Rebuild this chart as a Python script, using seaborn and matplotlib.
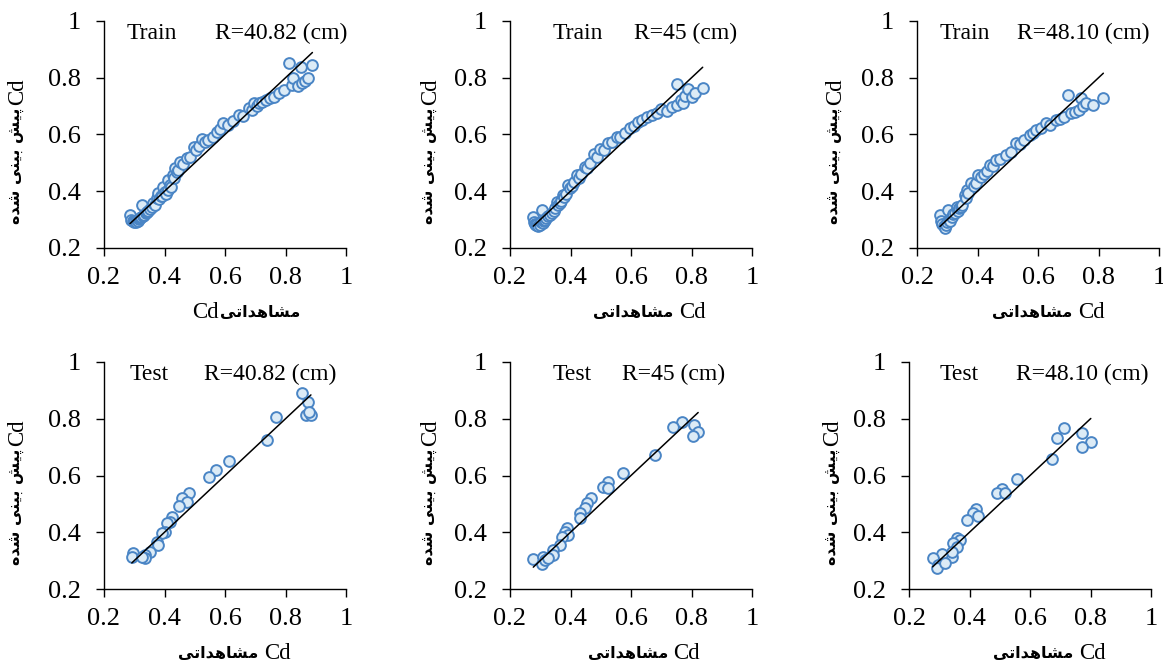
import matplotlib
matplotlib.use("Agg")
import matplotlib.pyplot as plt
import seaborn as sns
import pandas as pd

radii = ["R=40.82 (cm)", "R=45 (cm)", "R=48.10 (cm)"]

train_4082_obs = [0.286, 0.290, 0.295, 0.300, 0.305, 0.308, 0.312, 0.316, 0.320, 0.325, 0.322, 0.328,
                  0.333, 0.338, 0.342, 0.347, 0.352, 0.358, 0.363, 0.368, 0.375, 0.379, 0.383, 0.388,
                  0.392, 0.396, 0.400, 0.405, 0.410, 0.413, 0.418, 0.422, 0.429, 0.433, 0.436, 0.440,
                  0.445, 0.452, 0.460, 0.474, 0.485, 0.496, 0.505, 0.515, 0.524, 0.535, 0.545, 0.560,
                  0.574, 0.585, 0.595, 0.610, 0.625, 0.645, 0.660, 0.678, 0.690, 0.695, 0.705, 0.711,
                  0.722, 0.734, 0.748, 0.761, 0.778, 0.794, 0.811, 0.823, 0.826, 0.840, 0.851, 0.856,
                  0.865, 0.873, 0.889]
train_4082_pred = [0.316, 0.300, 0.295, 0.293, 0.292, 0.299, 0.296, 0.301, 0.305, 0.352, 0.310, 0.312,
                   0.318, 0.322, 0.327, 0.331, 0.338, 0.345, 0.359, 0.352, 0.376, 0.394, 0.371, 0.385,
                   0.382, 0.416, 0.398, 0.392, 0.404, 0.440, 0.421, 0.415, 0.457, 0.447, 0.482, 0.468,
                   0.474, 0.504, 0.495, 0.517, 0.522, 0.557, 0.545, 0.560, 0.584, 0.575, 0.581, 0.590,
                   0.610, 0.618, 0.640, 0.633, 0.648, 0.669, 0.665, 0.693, 0.685, 0.711, 0.700, 0.711,
                   0.715, 0.722, 0.728, 0.733, 0.748, 0.757, 0.852, 0.774, 0.799, 0.770, 0.839, 0.783,
                   0.790, 0.798, 0.845]

train_45_obs = [0.277, 0.278, 0.282, 0.286, 0.290, 0.294, 0.298, 0.300, 0.305, 0.304, 0.308, 0.312,
                0.316, 0.320, 0.326, 0.332, 0.338, 0.344, 0.350, 0.354, 0.360, 0.366, 0.370, 0.376,
                0.380, 0.385, 0.393, 0.398, 0.405, 0.412, 0.420, 0.428, 0.435, 0.448, 0.455, 0.465,
                0.478, 0.488, 0.498, 0.510, 0.525, 0.538, 0.553, 0.565, 0.580, 0.597, 0.610, 0.624,
                0.638, 0.652, 0.668, 0.685, 0.700, 0.718, 0.735, 0.751, 0.751, 0.765, 0.773, 0.780,
                0.790, 0.801, 0.810, 0.837]
train_45_pred = [0.310, 0.290, 0.283, 0.280, 0.285, 0.278, 0.288, 0.282, 0.334, 0.292, 0.287, 0.295,
                 0.300, 0.306, 0.312, 0.318, 0.324, 0.330, 0.340, 0.363, 0.350, 0.358, 0.365, 0.387,
                 0.378, 0.392, 0.422, 0.410, 0.420, 0.432, 0.457, 0.448, 0.462, 0.487, 0.482, 0.498,
                 0.531, 0.522, 0.548, 0.545, 0.569, 0.575, 0.592, 0.590, 0.606, 0.622, 0.630, 0.645,
                 0.652, 0.663, 0.668, 0.675, 0.690, 0.684, 0.698, 0.704, 0.778, 0.720, 0.710, 0.735,
                 0.759, 0.731, 0.745, 0.763]

train_4810_obs = [0.276, 0.280, 0.284, 0.288, 0.292, 0.296, 0.300, 0.303, 0.305, 0.310, 0.315, 0.320,
                  0.325, 0.331, 0.335, 0.340, 0.345, 0.350, 0.358, 0.362, 0.364, 0.370, 0.380, 0.388,
                  0.395, 0.402, 0.410, 0.420, 0.430, 0.440, 0.450, 0.462, 0.475, 0.495, 0.510, 0.528,
                  0.540, 0.555, 0.572, 0.585, 0.594, 0.610, 0.627, 0.640, 0.660, 0.672, 0.687, 0.700,
                  0.709, 0.722, 0.737, 0.742, 0.750, 0.760, 0.781, 0.816]
train_4810_pred = [0.316, 0.295, 0.285, 0.278, 0.272, 0.280, 0.290, 0.334, 0.300, 0.295, 0.310, 0.320,
                   0.325, 0.346, 0.330, 0.340, 0.345, 0.352, 0.387, 0.375, 0.404, 0.395, 0.428, 0.420,
                   0.430, 0.457, 0.450, 0.462, 0.470, 0.493, 0.488, 0.510, 0.512, 0.528, 0.540, 0.569,
                   0.565, 0.580, 0.598, 0.605, 0.616, 0.622, 0.639, 0.635, 0.651, 0.655, 0.663, 0.739,
                   0.675, 0.680, 0.686, 0.728, 0.700, 0.710, 0.704, 0.730]

test_4082_obs = [0.856, 0.873, 0.867, 0.884, 0.878, 0.768, 0.740, 0.613, 0.571, 0.546, 0.480, 0.458,
                 0.474, 0.447, 0.425, 0.419, 0.408, 0.403, 0.391, 0.375, 0.380, 0.353, 0.336, 0.336,
                 0.297, 0.292, 0.325]
test_4082_pred = [0.890, 0.860, 0.813, 0.813, 0.825, 0.807, 0.725, 0.652, 0.619, 0.596, 0.539, 0.520,
                  0.508, 0.493, 0.455, 0.437, 0.431, 0.402, 0.396, 0.367, 0.355, 0.331, 0.320, 0.308,
                  0.326, 0.314, 0.314]

test_45_obs = [0.768, 0.740, 0.808, 0.822, 0.806, 0.679, 0.575, 0.525, 0.508, 0.525, 0.467, 0.456,
               0.448, 0.431, 0.431, 0.387, 0.382, 0.393, 0.371, 0.365, 0.343, 0.343, 0.277, 0.310,
               0.305, 0.316, 0.327]
test_45_pred = [0.790, 0.770, 0.778, 0.754, 0.739, 0.672, 0.610, 0.578, 0.561, 0.555, 0.520, 0.502,
                0.484, 0.469, 0.449, 0.414, 0.402, 0.390, 0.384, 0.355, 0.337, 0.320, 0.306, 0.314,
                0.288, 0.302, 0.308]

test_4810_obs = [0.712, 0.688, 0.771, 0.801, 0.771, 0.672, 0.556, 0.506, 0.490, 0.517, 0.421, 0.413,
                 0.429, 0.391, 0.358, 0.369, 0.346, 0.358, 0.341, 0.308, 0.278, 0.297, 0.292, 0.319,
                 0.341]
test_4810_pred = [0.766, 0.731, 0.749, 0.719, 0.699, 0.657, 0.587, 0.551, 0.537, 0.539, 0.481, 0.467,
                  0.457, 0.443, 0.379, 0.373, 0.361, 0.349, 0.314, 0.323, 0.308, 0.285, 0.273, 0.291,
                  0.331]

ticks = [0.2, 0.4, 0.6, 0.8, 1.0]
tick_labels = ["0.2", "0.4", "0.6", "0.8", "1"]

# ---- persian text: matplotlib does no shaping, so do it by hand ----
FORMS = {  # isolated, final, initial, medial
    "م": ("\uFEE1", "\uFEE2", "\uFEE3", "\uFEE4"),
    "ش": ("\uFEB5", "\uFEB6", "\uFEB7", "\uFEB8"),
    "ا": ("\uFE8D", "\uFE8E", None, None),
    "ه": ("\uFEE9", "\uFEEA", "\uFEEB", "\uFEEC"),
    "د": ("\uFEA9", "\uFEAA", None, None),
    "ت": ("\uFE95", "\uFE96", "\uFE97", "\uFE98"),
    "ی": ("\uFBFC", "\uFBFD", "\uFBFE", "\uFBFF"),
    "پ": ("\uFB56", "\uFB57", "\uFB58", "\uFB59"),
    "ب": ("\uFE8F", "\uFE90", "\uFE91", "\uFE92"),
    "ن": ("\uFEE5", "\uFEE6", "\uFEE7", "\uFEE8"),
}


def shape_word(word):
    out = []
    for i, ch in enumerate(word):
        iso, fin, ini, med = FORMS[ch]
        prev_joins = i > 0 and FORMS[word[i - 1]][2] is not None
        next_joins = i < len(word) - 1 and ini is not None
        if prev_joins and next_joins:
            out.append(med)
        elif prev_joins:
            out.append(fin)
        elif next_joins:
            out.append(ini)
        else:
            out.append(iso)
    return "".join(reversed(out))


def persian(text):
    return " ".join(shape_word(w) for w in reversed(text.split()))


X_FA = persian("مشاهداتی")
Y_FA = persian("پیش بینی شده")
FA_SIZE = 11.5
CD_SIZE = 16.5
fa_font = dict(family="DejaVu Sans", fontweight="bold", fontsize=FA_SIZE, color="black")
cd_font = dict(family="Liberation Serif", fontsize=CD_SIZE, color="black")

sns.set_theme(style="ticks")
plt.rcParams["font.family"] = ["Liberation Serif", "DejaVu Sans"]
plt.rcParams["text.color"] = "black"

EDGE = "#4A85C5"
FILL = "#DCEBF6"

panels = [
    ("Train", radii[0], train_4082_obs, train_4082_pred),
    ("Train", radii[1], train_45_obs, train_45_pred),
    ("Train", radii[2], train_4810_obs, train_4810_pred),
    ("Test", radii[0], test_4082_obs, test_4082_pred),
    ("Test", radii[1], test_45_obs, test_45_pred),
    ("Test", radii[2], test_4810_obs, test_4810_pred),
]
# axes placement in pixels (left, top), text x positions (data units), ylabel x (axes units)
boxes = [(104, 21), (510, 21), (917, 21), (104, 362), (510, 362), (909, 362)]
text_x = [(0.276, 1.005), (0.342, 0.950), (0.276, 0.970),
          (0.283, 0.967), (0.342, 0.911), (0.302, 0.993)]
ylab_x = [-0.357, -0.33, -0.337, -0.357, -0.33, -0.314]
xlab_x = [0.481, 0.674, 0.642, 0.639, 0.653, 0.678]

FW, FH = 1163, 667
fig = plt.figure(figsize=(FW / 100, FH / 100), dpi=100)

for i, (kind, radius, obs, pred) in enumerate(panels):
    left, top = boxes[i]
    ax = fig.add_axes([left / FW, 1 - (top + 227) / FH, 242 / FW, 227 / FH])
    df = pd.DataFrame({"obs": obs, "pred": pred})

    sns.scatterplot(data=df, x="obs", y="pred", ax=ax, s=60, color=FILL,
                    edgecolor=EDGE, linewidth=1.4, zorder=2)
    lo, hi = df["obs"].min(), df["obs"].max()
    sns.lineplot(x=[lo, hi], y=[lo, hi], ax=ax, color="black", linewidth=1.1, zorder=3)

    ax.set_xlim(0.2, 1.0)
    ax.set_ylim(0.2, 1.0)
    ax.set_xticks(ticks)
    ax.set_xticklabels(tick_labels)
    ax.set_yticks(ticks)
    ax.set_yticklabels(tick_labels)
    ax.tick_params(axis="both", labelsize=19, length=5.5, width=1.0, colors="black")
    ax.tick_params(axis="y", pad=11)
    ax.tick_params(axis="x", pad=8)
    ax.set_xlabel("")
    ax.set_ylabel("")
    for side in ["top", "right"]:
        ax.spines[side].set_visible(False)
    for side in ["left", "bottom"]:
        ax.spines[side].set_linewidth(1.0)
        ax.spines[side].set_color("black")

    # x label: persian word + "Cd" (first panel has Cd on the left, no space)
    if i == 0:
        fa = ax.text(xlab_x[i], -0.285, X_FA, transform=ax.transAxes,
                     ha="left", va="center", **fa_font)
        ax.annotate("Cd", xy=(0, 0.5), xycoords=fa, xytext=(-1, 0), textcoords="offset points",
                    ha="right", va="center", **cd_font)
    else:
        fa = ax.text(xlab_x[i], -0.285, X_FA, transform=ax.transAxes,
                     ha="right", va="center", **fa_font)
        ax.annotate("Cd", xy=(1, 0.5), xycoords=fa, xytext=(4, 0), textcoords="offset points",
                    ha="left", va="center", **cd_font)

    # y label: rotated persian phrase with "Cd" above it
    fa = ax.text(ylab_x[i], 0.617, Y_FA, transform=ax.transAxes, rotation=90,
                 rotation_mode="anchor", ha="right", va="center", **fa_font)
    ax.annotate("Cd", xy=(0.5, 1), xycoords=fa, xytext=(0, 2), textcoords="offset points",
                rotation=90, ha="center", va="bottom", **cd_font)

    tx0, tx1 = text_x[i]
    ax.text(tx0, 0.956, kind, fontsize=17, ha="left", va="center", color="black")
    ax.text(tx1, 0.956, radius, fontsize=17, ha="right", va="center", color="black")

fig.savefig("out.png", dpi=100)
